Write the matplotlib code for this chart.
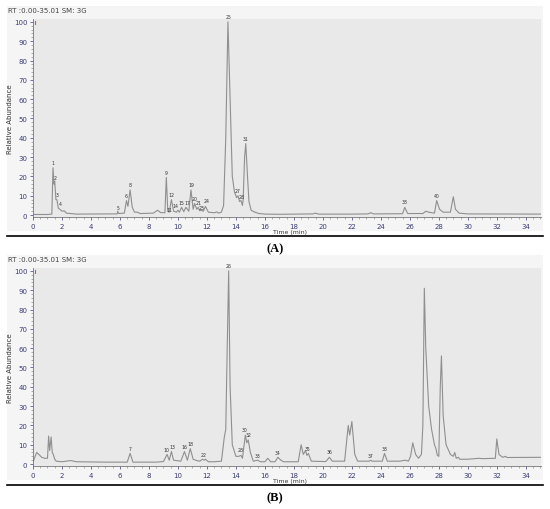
import matplotlib.pyplot as plt
from matplotlib.patches import Rectangle
from matplotlib.lines import Line2D
from matplotlib.ticker import MultipleLocator

# trace A: (time, relative abundance) vertices
a_time = [0.0, 1.0, 1.3, 1.38, 1.45, 1.5, 1.58, 1.65, 1.75, 1.85, 2.0, 2.15, 2.3, 3.0, 5.0,
          5.8, 5.85, 5.9, 6.3, 6.45, 6.55, 6.7, 6.85, 7.0, 7.2, 7.4, 8.3, 8.6, 8.8, 9.1,
          9.2, 9.3, 9.4, 9.55, 9.7, 9.9, 10.0, 10.1, 10.25, 10.4, 10.55, 10.75, 10.9, 11.05,
          11.15, 11.3, 11.4, 11.5, 11.6, 11.75, 11.9, 12.1, 12.5, 12.7, 12.8, 13.0, 13.15,
          13.3, 13.45, 13.6, 13.75, 13.9, 14.05, 14.15, 14.25, 14.35, 14.45, 14.5, 14.6,
          14.68, 14.8, 14.9, 15.05, 15.3, 15.6, 16.0, 17.0, 19.3, 19.5, 19.7, 22.0, 23.1,
          23.3, 23.5, 25.5, 25.65, 25.85, 26.9, 27.1, 27.3, 27.7, 27.85, 28.05, 28.3, 28.8,
          29.0, 29.15, 29.4, 30.0, 35.05]
a_abund = [0.3, 0.3, 0.5, 24.5, 16, 17.5, 8, 8, 3.5, 3, 2, 2.2, 1, 0.5, 0.6,
           0.6, 2, 0.8, 1, 7.5, 4.5, 13, 4, 1.5, 1.5, 0.8, 1, 2.5, 1.3, 1.2,
           19.5, 2, 1.5, 8, 2, 1.5, 2.5, 1.5, 4, 1.8, 4, 2, 13, 3,
           6, 3, 4, 2.2, 2.5, 2, 4.5, 1.5, 1.2, 1.6, 1, 1.5, 5,
           40, 100, 60, 20, 12, 9, 10, 7, 7.5, 5, 8, 30,
           37, 20, 7, 2.5, 1.5, 0.8, 0.5, 0.4, 0.6, 1, 0.5, 0.5, 0.6,
           1.2, 0.6, 0.7, 4, 0.8, 0.8, 2, 1.5, 1, 7.5, 3, 1.5, 1.5,
           9.5, 3, 1, 0.6, 0.5]
a_lab_x = [1.38, 1.56, 1.68, 1.88, 5.85, 6.45, 6.72, 9.2, 9.4, 9.58, 9.85, 10.25, 10.66,
           10.9, 11.15, 11.42, 11.62, 11.95, 13.5, 14.12, 14.4, 14.68, 25.65, 27.85]
a_lab_y = [26, 18, 9.5, 4.5, 2.5, 9, 14.5, 21, 1.5, 9.5, 3.5, 5, 5,
           14.5, 7.5, 5, 2.5, 6, 101.5, 11.5, 8.5, 38.5, 5.5, 9]
a_lab = ['1', '2', '3', '4', '5', '6', '8', '9', '11', '12', '14', '15', '17',
         '19', '20', '21', '23', '24', '25', '27', '28', '31', '38', '40']

# trace B
b_time = [0.0, 0.1, 0.25, 0.4, 0.6, 0.8, 1.0, 1.08, 1.15, 1.25, 1.33, 1.4, 1.5, 1.6, 2.0,
          2.6, 3.0, 5.0, 6.5, 6.7, 6.9, 8.5, 9.0, 9.25, 9.4, 9.55, 9.7, 10.2, 10.45, 10.65,
          10.85, 11.05, 11.3, 11.5, 11.7, 11.8, 11.9, 12.1, 12.5, 13.0, 13.2, 13.3, 13.4,
          13.5, 13.6, 13.75, 14.0, 14.2, 14.35, 14.45, 14.55, 14.65, 14.75, 14.85, 15.0,
          15.2, 15.5, 15.7, 16.0, 16.2, 16.4, 16.7, 16.9, 17.1, 17.3, 18.3, 18.5, 18.65,
          18.8, 18.9, 19.0, 19.2, 20.2, 20.45, 20.65, 21.5, 21.75, 21.85, 22.0, 22.2, 22.4,
          23.2, 23.3, 23.4, 24.1, 24.25, 24.45, 25.3, 25.7, 25.9, 26.05, 26.2, 26.4, 26.6,
          26.8, 26.9, 27.0, 27.1, 27.3, 27.5, 27.7, 27.8, 27.9, 28.0, 28.1, 28.18, 28.3,
          28.5, 28.8, 29.0, 29.1, 29.2, 29.35, 29.45, 30.0, 30.8, 31.0, 31.9, 32.0, 32.15,
          32.4, 32.6, 32.7, 35.05]
b_abund = [1, 3, 6, 5, 3.5, 3, 3, 14.5, 7, 14, 6, 5, 2.5, 1.5, 1.2,
           1.8, 1.2, 1.0, 1, 5.5, 1, 1, 1.3, 5, 2, 6.5, 2, 1.5, 6.5, 2,
           8, 2.5, 1.8, 1.5, 2.5, 2, 2.5, 1.2, 1.2, 1.5, 14, 18, 60,
           100, 40, 10, 4, 4, 4.5, 3, 9, 15, 11, 12.5, 6,
           1.5, 2, 1.2, 1.2, 3, 1.2, 1.2, 3.5, 2, 1.2, 1.2, 10, 5,
           7, 4.5, 5.5, 1.5, 1.3, 3.5, 1.5, 1.5, 20, 15, 22, 5, 1.5,
           1.5, 2, 1.5, 1.5, 5.5, 1.5, 1.5, 2, 1.5, 4, 11, 5, 3,
           5, 20, 91, 60, 30, 18, 10, 8, 4.5, 4, 40, 56, 25,
           10, 5, 4, 6, 3, 3.5, 2.5, 2.5, 3, 2.8, 3, 13, 5,
           3.5, 4, 3.4, 3.5]
b_lab_x = [6.7, 9.18, 9.62, 10.45, 10.85, 11.8, 13.5, 14.3, 14.62, 14.9, 15.5, 16.9,
           18.95, 20.45, 23.3, 24.25]
b_lab_y = [7, 6.5, 8, 8, 9.5, 3.5, 101.5, 6, 16.5, 14, 3, 4.5,
           7, 5, 3, 7]
b_lab = ['7', '10', '13', '16', '18', '22', '26', '28', '30', '32', '33', '34',
         '35', '36', '37', '38']

W, H = 550, 510
fig = plt.figure(figsize=(5.5, 5.1), dpi=100)
fig.patch.set_facecolor('white')

tick_col = '#3b3b7a'
line_col = '#8f8f8f'


def panel(top_px, times, vals, lx, ly, labs, letter):
    # light panel background, kept behind the axes
    fig.patches.append(Rectangle((7 / W, 1 - (top_px + 225) / H), 536 / W, 225 / H,
                                 transform=fig.transFigure, facecolor='#f5f5f5',
                                 edgecolor='none', zorder=-10))
    fig.text(8 / W, 1 - (top_px + 4) / H, 'RT :0.00-35.01 SM: 3G', fontsize=5,
             color='#444444', va='center', ha='left')
    ax_top = top_px + 13
    ax = fig.add_axes([33 / W, 1 - (ax_top + 198) / H, 508 / W, 198 / H])
    ax.set_zorder(1)
    ax.set_facecolor('#e9e9e9')
    ax.plot(times, vals, color=line_col, lw=0.8)
    for x, y, t in zip(lx, ly, labs):
        ax.text(x, y, t, fontsize=3.3, ha='center', va='bottom', color='#333333')
    ax.plot([0.12, 0.12], [99, 100.5], color='#e05050', lw=0.8)
    ax.set_xlim(0, 35.05)
    ax.set_ylim(-1, 101.5)
    ax.xaxis.set_major_locator(MultipleLocator(2))
    ax.xaxis.set_minor_locator(MultipleLocator(0.5))
    ax.yaxis.set_major_locator(MultipleLocator(10))
    ax.yaxis.set_minor_locator(MultipleLocator(2))
    ax.tick_params(labelsize=5, colors=tick_col, length=2.5, width=0.5, pad=1.5)
    ax.tick_params(which='minor', length=1.2, width=0.4, colors='#777777')
    for s in ['top', 'right']:
        ax.spines[s].set_visible(False)
    for s in ['left', 'bottom']:
        ax.spines[s].set_color('#777777')
        ax.spines[s].set_linewidth(0.6)
    ax.set_ylabel('Relative Abundance', fontsize=5, color='#333333', labelpad=1)
    fig.text(290 / W, 1 - (ax_top + 213) / H, 'Time (min)', fontsize=4.5,
             color='#333333', ha='center', va='center')
    bl = top_px + 230
    fig.lines.append(Line2D([7 / W, 543 / W], [1 - bl / H, 1 - bl / H],
                            transform=fig.transFigure, color='black', lw=1.2))
    fig.text(275 / W, 1 - (bl + 12) / H, '(' + letter + ')', fontsize=9,
             fontweight='bold', family='Liberation Serif', ha='center', va='center')
    return ax


panel(7, a_time, a_abund, a_lab_x, a_lab_y, a_lab, 'A')
panel(256, b_time, b_abund, b_lab_x, b_lab_y, b_lab, 'B')

fig.savefig('out.png', dpi=100)
